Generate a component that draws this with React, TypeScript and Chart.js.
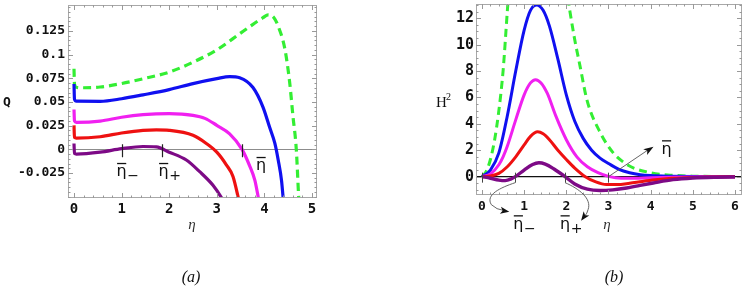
import React, { useEffect, useRef } from "react";
import { Chart, registerables } from "chart.js";

Chart.register(...registerables);

// ---------------- Panel (a): Q versus eta ----------------
const xTicksA = [0, 1, 2, 3, 4, 5];
const yTicksA = [-0.025, 0, 0.025, 0.05, 0.075, 0.1, 0.125];
const yLabelsA = ["-0.025", "0", "0.025", "0.05", "0.075", "0.1", "0.125"];

const etaGreenA = [0, 0.01, 0.05, 0.2, 0.55, 1.0, 1.45, 2.0, 2.5, 3.0, 3.48, 3.76, 3.97, 4.08, 4.2, 4.29, 4.43, 4.53, 4.6, 4.67, 4.72, 4.76];
const qGreen = [0.085, 0.069, 0.0655, 0.065, 0.0658, 0.0695, 0.0745, 0.0815, 0.092, 0.105, 0.122, 0.132, 0.139, 0.142, 0.139, 0.13, 0.106, 0.071, 0.035, 0.0, -0.05, -0.08];

const etaBlueA = [0, 0.01, 0.05, 0.55, 1.0, 1.45, 2.0, 2.5, 3.0, 3.27, 3.48, 3.76, 3.97, 4.11, 4.22, 4.29, 4.36, 4.4];
const qBlue = [0.069, 0.053, 0.0508, 0.0507, 0.0534, 0.0575, 0.063, 0.0694, 0.0746, 0.0768, 0.0756, 0.0652, 0.0446, 0.0232, 0.0062, -0.0113, -0.033, -0.055];

const etaMagentaA = [0, 0.01, 0.05, 0.55, 1.0, 1.45, 2.0, 2.5, 2.75, 3.0, 3.27, 3.53, 3.69, 3.8, 3.88];
const qMagenta = [0.042, 0.03, 0.0285, 0.0298, 0.0339, 0.0366, 0.0377, 0.0359, 0.0327, 0.0253, 0.0164, 0.0, -0.0174, -0.0328, -0.053];

const etaRedA = [0, 0.01, 0.05, 0.55, 1.0, 1.45, 1.73, 2.0, 2.5, 2.78, 3.0, 3.2, 3.34, 3.47];
const qRed = [0.0253, 0.0125, 0.0118, 0.0133, 0.0172, 0.02, 0.0205, 0.02, 0.0148, 0.0062, -0.003, -0.0164, -0.0287, -0.055];

const etaPurpleA = [0, 0.01, 0.05, 0.55, 1.0, 1.45, 1.73, 2.0, 2.36, 2.64, 2.92, 3.1, 3.15];
const qPurple = [0.0062, -0.0045, -0.005, -0.003, 0.0007, 0.003, 0.0025, -0.003, -0.0113, -0.0236, -0.038, -0.0513, -0.056];

const marksA = [1.0, 1.84, 3.53];

// ---------------- Panel (b): H^2 versus eta ----------------
const xTicksB = [0, 1, 2, 3, 4, 5, 6];
const yTicksB = [0, 2, 4, 6, 8, 10, 12];

const etaGreenB = [0, 0.1, 0.2, 0.3, 0.4, 0.5, 0.6, 0.7, 0.8, 1.0, 1.3, 1.6, 1.8, 2.0, 2.17, 2.33, 2.49, 2.81, 3.12, 3.4, 3.6, 4.0, 4.4, 5.0, 6.0];
const h2Green = [0, 0.4, 1.3, 2.8, 5.0, 8.0, 12.5, 17, 21, 27, 30, 27, 21, 14.5, 10.9, 8.3, 5.8, 3.3, 1.77, 1.0, 0.65, 0.3, 0.13, 0.04, 0];

const etaBlueB = [0, 0.2, 0.4, 0.6, 0.8, 1.0, 1.15, 1.3, 1.45, 1.6, 1.8, 2.0, 2.2, 2.4, 2.6, 2.8, 3.0, 3.25, 3.5, 3.75, 4.0, 4.5, 5.0, 6.0];
const h2Blue = [0, 0.5, 1.8, 4.6, 8.0, 11.1, 12.6, 13.0, 12.6, 11.4, 8.9, 6.2, 4.2, 2.9, 2.0, 1.4, 1.0, 0.55, 0.3, 0.15, 0.08, 0.03, 0.01, 0];

const etaMagentaB = [0, 0.2, 0.4, 0.5, 0.6, 0.8, 1.0, 1.15, 1.27, 1.4, 1.55, 1.75, 2.0, 2.25, 2.5, 2.75, 3.0, 3.3, 3.6, 4.0, 4.5, 5.0, 6.0];
const h2Magenta = [0, 0.2, 0.9, 1.5, 2.3, 4.3, 6.2, 7.1, 7.35, 7.1, 6.3, 4.6, 2.8, 1.5, 0.75, 0.3, 0.02, -0.12, -0.12, -0.08, -0.04, -0.02, 0];

const etaRedB = [0, 0.2, 0.4, 0.6, 0.8, 1.0, 1.15, 1.32, 1.45, 1.6, 1.8, 2.0, 2.2, 2.45, 2.7, 2.95, 3.2, 3.5, 3.8, 4.1, 4.5, 5.0, 5.5, 6.0];
const h2Red = [0, 0.05, 0.25, 0.75, 1.5, 2.4, 3.05, 3.4, 3.25, 2.8, 2.0, 1.3, 0.65, 0.0, -0.4, -0.6, -0.6, -0.5, -0.36, -0.24, -0.13, -0.06, -0.03, -0.01];

const etaPurpleB = [0, 0.2, 0.4, 0.55, 0.7, 0.79, 1.0, 1.2, 1.35, 1.5, 1.7, 1.97, 2.2, 2.5, 2.8, 3.1, 3.43, 3.75, 4.06, 4.53, 5.0, 5.5, 6.0];
const h2Purple = [0, -0.12, -0.26, -0.3, -0.16, 0.0, 0.5, 0.92, 1.05, 0.95, 0.6, 0.0, -0.55, -0.95, -1.05, -1.0, -0.86, -0.66, -0.48, -0.23, -0.1, -0.04, -0.02];

const marksB = [0, 0.79, 1.97, 3.0];

// ---------------- styling ----------------
const GREEN = "#33ee33";
const BLUE = "#1010f0";
const MAGENTA = "#f020f0";
const RED = "#ee1111";
const PURPLE = "#7d0a86";
const MONO = '"DejaVu Sans Mono", monospace';
const SANS = '"DejaVu Sans", sans-serif';
const SERIF = '"Liberation Serif", serif';
const FRAME = "#a8a8a8";

function pts(eta: number[], val: number[]) {
  return eta.map((e, i) => ({ x: e, y: val[i] }));
}

function ds(eta: number[], val: number[], color: string, width: number, dash?: number[]) {
  return {
    data: pts(eta, val),
    borderColor: color,
    borderWidth: width,
    borderDash: dash || [],
    borderCapStyle: "butt",
    borderJoinStyle: "round",
    pointRadius: 0,
    fill: false,
    cubicInterpolationMode: "monotone",
    clip: 0,
  };
}

function drawFrame(chart: any, xMinor: number, yMinor: number, xMajor: number[], yMajor: number[]) {
  const { ctx, chartArea: a, scales } = chart;
  const x = scales.x;
  const y = scales.y;
  ctx.save();
  ctx.strokeStyle = FRAME;
  ctx.lineWidth = 1;
  ctx.strokeRect(Math.round(a.left) + 0.5, Math.round(a.top) + 0.5, Math.round(a.right - a.left) - 1, Math.round(a.bottom - a.top) - 1);
  ctx.strokeStyle = "#999";
  const isMajor = (v: number, arr: number[], step: number) => arr.some((m) => Math.abs(m - v) < step / 10);
  const xs: [number, number][] = [];
  for (let k = Math.ceil(x.min / xMinor); k <= Math.floor(x.max / xMinor); k++) {
    const v = k * xMinor;
    xs.push([v, isMajor(v, xMajor, xMinor) ? 5 : 2.5]);
  }
  ctx.beginPath();
  xs.forEach(([v, len]) => {
    const px = Math.round(x.getPixelForValue(v)) + 0.5;
    ctx.moveTo(px, a.bottom);
    ctx.lineTo(px, a.bottom - len);
    ctx.moveTo(px, a.top);
    ctx.lineTo(px, a.top + len);
  });
  const ys: [number, number][] = [];
  for (let k = Math.ceil(y.min / yMinor); k <= Math.floor(y.max / yMinor); k++) {
    const v = k * yMinor;
    ys.push([v, isMajor(v, yMajor, yMinor) ? 5 : 2.5]);
  }
  ys.forEach(([v, len]) => {
    const py = Math.round(y.getPixelForValue(v)) + 0.5;
    ctx.moveTo(a.left, py);
    ctx.lineTo(a.left + len, py);
    ctx.moveTo(a.right, py);
    ctx.lineTo(a.right - len, py);
  });
  ctx.stroke();
  ctx.restore();
}

function drawEtaBar(ctx: any, x: number, base: number, sub: string, size: number) {
  ctx.save();
  ctx.fillStyle = "#111";
  ctx.strokeStyle = "#111";
  ctx.font = `${size}px ${SANS}`;
  ctx.textAlign = "left";
  ctx.textBaseline = "alphabetic";
  ctx.fillText("η", x, base);
  const w = ctx.measureText("η").width;
  ctx.lineWidth = 1.3;
  ctx.beginPath();
  ctx.moveTo(x + 0.5, base - size * 0.8);
  ctx.lineTo(x + w - 0.5, base - size * 0.8);
  ctx.stroke();
  if (sub) {
    ctx.font = `${Math.round(size * 0.9)}px ${SANS}`;
    ctx.fillText(sub, x + w + 0.5, base + 4);
  }
  ctx.restore();
}

function arrowHead(ctx: any, fx: number, fy: number, tx: number, ty: number, len: number, half: number) {
  const ang = Math.atan2(ty - fy, tx - fx);
  const c = Math.cos(ang);
  const s = Math.sin(ang);
  ctx.beginPath();
  ctx.moveTo(tx, ty);
  ctx.lineTo(tx - len * c + half * s, ty - len * s - half * c);
  ctx.lineTo(tx - len * c * 0.75, ty - len * s * 0.75);
  ctx.lineTo(tx - len * c - half * s, ty - len * s + half * c);
  ctx.closePath();
  ctx.fill();
}

const pluginA = {
  id: "panelA",
  beforeDatasetsDraw(chart: any) {
    const { ctx, chartArea: a, scales } = chart;
    const y0 = Math.round(scales.y.getPixelForValue(0)) + 0.5;
    ctx.save();
    ctx.strokeStyle = "#8c8c8c";
    ctx.lineWidth = 1;
    ctx.beginPath();
    ctx.moveTo(a.left, y0);
    ctx.lineTo(a.right, y0);
    ctx.stroke();
    ctx.restore();
  },
  afterDatasetsDraw(chart: any) {
    const { ctx, scales } = chart;
    drawFrame(chart, 0.2, 0.005, xTicksA, yTicksA);
    const y0 = scales.y.getPixelForValue(0);
    ctx.save();
    ctx.strokeStyle = "#222";
    ctx.lineWidth = 1.2;
    ctx.beginPath();
    marksA.forEach((m) => {
      const px = Math.round(scales.x.getPixelForValue(m)) + 0.5;
      ctx.moveTo(px, y0 - 5);
      ctx.lineTo(px, y0 + 8);
    });
    ctx.stroke();
    ctx.restore();
    const p = marksA.map((m) => scales.x.getPixelForValue(m));
    drawEtaBar(ctx, p[0] - 5, y0 + 27, "\u2212", 16);
    drawEtaBar(ctx, p[1] - 3, y0 + 27, "+", 16);
    drawEtaBar(ctx, p[2] + 14, y0 + 21, "", 16);
  },
  afterDraw(chart: any) {
    const { ctx } = chart;
    ctx.save();
    ctx.fillStyle = "#111";
    ctx.textAlign = "center";
    ctx.textBaseline = "middle";
    ctx.font = `bold 13px ${MONO}`;
    ctx.fillText("Q", 7, 103);
    ctx.fillStyle = "#333";
    ctx.font = `italic 15px ${SERIF}`;
    ctx.fillText("η", 192, 225);
    ctx.fillStyle = "#111";
    ctx.font = `italic 16px ${SERIF}`;
    ctx.fillText("(a)", 191, 278);
    ctx.restore();
  },
};

const pluginB = {
  id: "panelB",
  beforeDatasetsDraw(chart: any) {
    const { ctx, chartArea: a, scales } = chart;
    const y0 = scales.y.getPixelForValue(0);
    ctx.save();
    ctx.strokeStyle = "#111";
    ctx.lineWidth = 1.4;
    ctx.beginPath();
    ctx.moveTo(a.left, y0);
    ctx.lineTo(a.right, y0);
    ctx.stroke();
    ctx.restore();
  },
  afterDatasetsDraw(chart: any) {
    const { ctx, scales } = chart;
    drawFrame(chart, 0.2, 0.5, xTicksB, yTicksB);
    const y0 = scales.y.getPixelForValue(0);
    const p = marksB.map((m) => scales.x.getPixelForValue(m));
    ctx.save();
    ctx.strokeStyle = "#444";
    ctx.lineWidth = 1;
    ctx.beginPath();
    p.forEach((px) => {
      const q = Math.round(px) + 0.5;
      ctx.moveTo(q, y0 - 4);
      ctx.lineTo(q, y0 + 6);
    });
    ctx.stroke();
    ctx.strokeStyle = "#555";
    ctx.fillStyle = "#111";
    ctx.lineWidth = 0.9;
    let sx = p[1];
    const sy = y0 + 6;
    ctx.beginPath();
    ctx.moveTo(sx, sy);
    ctx.bezierCurveTo(sx - 15, sy + 5, sx - 30, sy + 12, sx - 24, sy + 22);
    ctx.quadraticCurveTo(sx - 19, sy + 27, sx - 11, sy + 28);
    ctx.stroke();
    arrowHead(ctx, sx - 19, sy + 27, sx - 6, sy + 29, 9, 3.5);
    sx = p[2];
    ctx.beginPath();
    ctx.moveTo(sx, sy);
    ctx.bezierCurveTo(sx + 14, sy + 6, sx + 27, sy + 16, sx + 23, sy + 27);
    ctx.quadraticCurveTo(sx + 22, sy + 31, sx + 20, sy + 33);
    ctx.stroke();
    arrowHead(ctx, sx + 22, sy + 30, sx + 16, sy + 38, 9, 3.5);
    sx = p[3];
    ctx.beginPath();
    ctx.moveTo(sx, y0);
    ctx.lineTo(sx + 40, y0 - 27);
    ctx.stroke();
    arrowHead(ctx, sx, y0, sx + 45, y0 - 30, 10, 3.5);
    ctx.restore();
    drawEtaBar(ctx, p[1] - 2, y0 + 52, "\u2212", 16);
    drawEtaBar(ctx, p[2] - 5, y0 + 52, "+", 16);
    drawEtaBar(ctx, p[3] + 53, y0 - 23, "", 16);
  },
  afterDraw(chart: any) {
    const { ctx } = chart;
    ctx.save();
    ctx.fillStyle = "#111";
    ctx.textAlign = "left";
    ctx.textBaseline = "alphabetic";
    ctx.font = `15px ${SERIF}`;
    ctx.fillText("H", 36, 107);
    ctx.font = `10px ${SERIF}`;
    ctx.fillText("2", 46, 100);
    ctx.textAlign = "center";
    ctx.textBaseline = "middle";
    ctx.fillStyle = "#333";
    ctx.font = `italic 15px ${SERIF}`;
    ctx.fillText("η", 207, 225);
    ctx.fillStyle = "#111";
    ctx.font = `italic 16px ${SERIF}`;
    ctx.fillText("(b)", 214, 278);
    ctx.restore();
  },
};

function zeroPad(s: any) {
  s.paddingLeft = 0;
  s.paddingRight = 0;
  s.paddingTop = 0;
  s.paddingBottom = 0;
}

function makeConfig(p: any) {
  return {
    type: "line",
    data: { datasets: p.datasets },
    options: {
      animation: false,
      responsive: false,
      events: [],
      layout: { padding: p.padding },
      plugins: { legend: { display: false }, tooltip: { enabled: false } },
      scales: {
        x: {
          type: "linear",
          min: p.xMin,
          max: p.xMax,
          grid: { display: false, drawTicks: false, tickLength: 0 },
          border: { display: false },
          ticks: {
            font: { family: MONO, size: p.xFont, weight: "bold" },
            color: "#111",
            padding: p.xPad,
            maxRotation: 0,
            autoSkip: false,
            callback: (v: number) => String(v),
          },
          afterBuildTicks: (s: any) => {
            s.ticks = p.xTicks.map((v: number) => ({ value: v }));
          },
          afterFit: (s: any) => {
            s.height = p.xHeight;
            zeroPad(s);
          },
        },
        y: {
          type: "linear",
          min: p.yMin,
          max: p.yMax,
          grid: { display: false, drawTicks: false, tickLength: 0 },
          border: { display: false },
          ticks: {
            font: { family: MONO, size: p.yFont, weight: "bold" },
            color: "#111",
            padding: p.yPad,
            autoSkip: false,
            callback: p.yLabel,
          },
          afterBuildTicks: (s: any) => {
            s.ticks = p.yTicks.map((v: number) => ({ value: v }));
          },
          afterFit: (s: any) => {
            s.width = p.yWidth;
            zeroPad(s);
          },
        },
      },
    },
    plugins: [p.plugin],
  };
}

export default function App() {
  const refA = useRef<HTMLCanvasElement>(null);
  const refB = useRef<HTMLCanvasElement>(null);
  useEffect(() => {
    const cfgA = makeConfig({
      datasets: [
        ds(etaPurpleA, qPurple, PURPLE, 3.2),
        ds(etaRedA, qRed, RED, 3.2),
        ds(etaMagentaA, qMagenta, MAGENTA, 3.2),
        ds(etaBlueA, qBlue, BLUE, 3.2),
        ds(etaGreenA, qGreen, GREEN, 3.2, [8, 5]),
      ],
      padding: { left: 0, top: 5, right: 83, bottom: 0 },
      xMin: -0.126,
      xMax: 5.105,
      yMin: -0.0514,
      yMax: 0.1524,
      xTicks: xTicksA,
      yTicks: yTicksA,
      yLabel: (v: number) => yLabelsA[yTicksA.indexOf(v)],
      xFont: 14,
      yFont: 13,
      xPad: 3,
      yPad: 3,
      xHeight: 90,
      yWidth: 68,
      plugin: pluginA,
    });
    const cfgB = makeConfig({
      datasets: [
        ds(etaPurpleB, h2Purple, PURPLE, 3.4),
        ds(etaRedB, h2Red, RED, 3),
        ds(etaMagentaB, h2Magenta, MAGENTA, 3),
        ds(etaBlueB, h2Blue, BLUE, 3),
        ds(etaGreenB, h2Green, GREEN, 3, [8, 5]),
      ],
      padding: { left: 0, top: 4, right: 5, bottom: 0 },
      xMin: -0.142,
      xMax: 6.166,
      yMin: -1.39,
      yMax: 13.08,
      xTicks: xTicksB,
      yTicks: yTicksB,
      yLabel: (v: number) => String(v),
      xFont: 13,
      yFont: 15,
      xPad: 4,
      yPad: 2,
      xHeight: 93,
      yWidth: 76,
      plugin: pluginB,
    });
    const a = new Chart(refA.current as HTMLCanvasElement, cfgA as any);
    const b = new Chart(refB.current as HTMLCanvasElement, cfgB as any);
    return () => {
      a.destroy();
      b.destroy();
    };
  }, []);
  return (
    <div style={{ position: "fixed", left: 0, top: 0, width: 747, height: 288, background: "#fff" }}>
      <canvas ref={refA} width={400} height={288} style={{ position: "absolute", left: 0, top: 0, width: 400, height: 288 }} />
      <canvas ref={refB} width={347} height={288} style={{ position: "absolute", left: 400, top: 0, width: 347, height: 288 }} />
    </div>
  );
}
